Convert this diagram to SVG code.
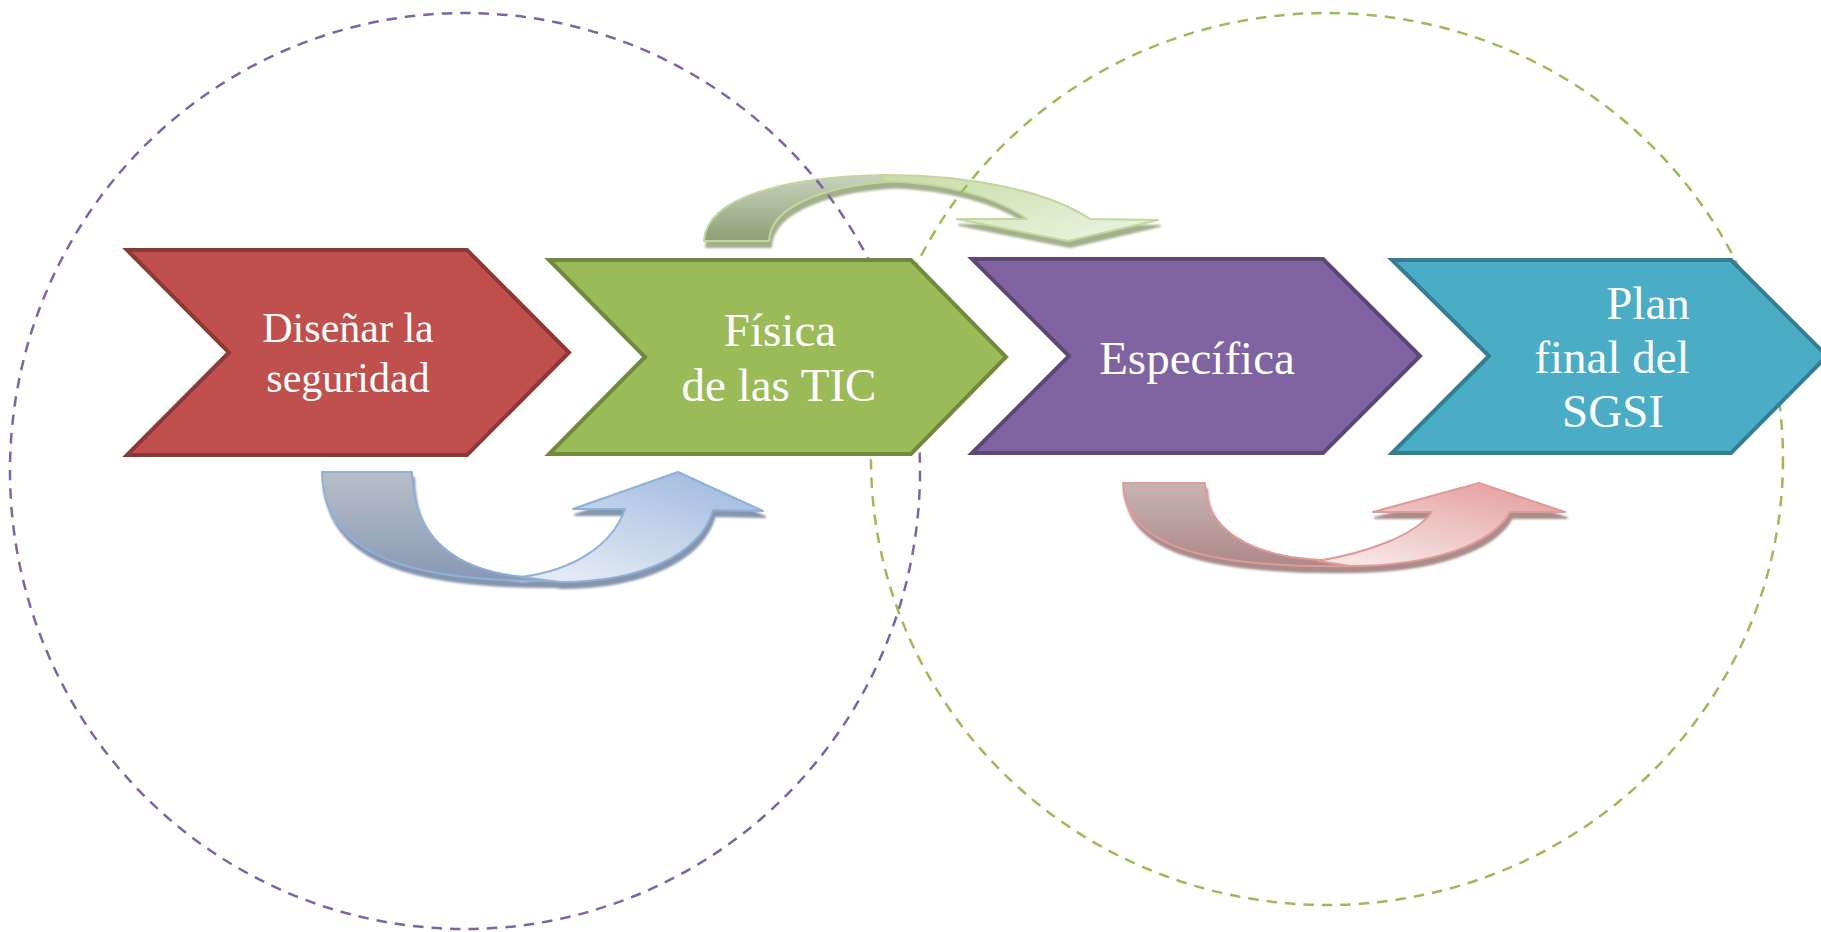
<svg xmlns="http://www.w3.org/2000/svg" width="1821" height="932" viewBox="0 0 1821 932">
<style>
.lbl{font-family:"Liberation Serif","Times New Roman",serif;fill:#ffffff;text-anchor:middle}
.f42{font-size:42px}
.f47{font-size:47px}
.chev{stroke-width:4;stroke-linejoin:miter}
.ring{fill:none;stroke-width:2.5;stroke-dasharray:10.5 8}
.arr{stroke-width:2;stroke-linejoin:round}
</style>
<defs>
<linearGradient id="bD" x1="0" y1="0" x2="0" y2="1"><stop offset="0" stop-color="#B8BEC9"/><stop offset="1" stop-color="#8798B4"/></linearGradient>
<linearGradient id="bL" x1="1" y1="0" x2="0.3" y2="1"><stop offset="0" stop-color="#9AB5DD"/><stop offset="1" stop-color="#E2E9F4"/></linearGradient>
<linearGradient id="rD" x1="0" y1="0" x2="0" y2="1"><stop offset="0" stop-color="#C7B3B3"/><stop offset="1" stop-color="#AE8888"/></linearGradient>
<linearGradient id="rL" x1="1" y1="0" x2="0.3" y2="1"><stop offset="0" stop-color="#E39998"/><stop offset="1" stop-color="#F6E3E3"/></linearGradient>
<linearGradient id="gD" x1="0" y1="0" x2="0" y2="1"><stop offset="0" stop-color="#C9D1BE"/><stop offset="1" stop-color="#8EA176"/></linearGradient>
<linearGradient id="gL" x1="0" y1="0" x2="1" y2="1"><stop offset="0" stop-color="#C8DCA6"/><stop offset="1" stop-color="#EEF4E4"/></linearGradient>
<filter id="shB" x="-10%" y="-10%" width="120%" height="130%"><feOffset in="SourceAlpha" dx="2" dy="6" result="o"/><feFlood flood-color="#8595AE"/><feComposite in2="o" operator="in" result="s"/><feGaussianBlur in="s" stdDeviation="0.8" result="sb"/><feMerge><feMergeNode in="sb"/><feMergeNode in="SourceGraphic"/></feMerge></filter>
<filter id="shR" x="-10%" y="-10%" width="120%" height="130%"><feOffset in="SourceAlpha" dx="2" dy="6" result="o"/><feFlood flood-color="#A98C8B"/><feComposite in2="o" operator="in" result="s"/><feGaussianBlur in="s" stdDeviation="0.8" result="sb"/><feMerge><feMergeNode in="sb"/><feMergeNode in="SourceGraphic"/></feMerge></filter>
<filter id="shG" x="-10%" y="-10%" width="120%" height="130%"><feOffset in="SourceAlpha" dx="2" dy="6" result="o"/><feFlood flood-color="#A4AF8C"/><feComposite in2="o" operator="in" result="s"/><feGaussianBlur in="s" stdDeviation="0.8" result="sb"/><feMerge><feMergeNode in="sb"/><feMergeNode in="SourceGraphic"/></feMerge></filter>
</defs>
<rect width="1821" height="932" fill="#ffffff"/>
<g id="connectors">
<g id="arrow-blue" filter="url(#shB)">
<path class="arr" fill="url(#bD)" stroke="#8FB0D9" d="M322,472 H412 C413,540 458,571 525,577 L565,581 C420,583 322,560 322,472 Z"/>
<path class="arr" fill="url(#bL)" stroke="#8FB0D9" d="M521,577 C575,570 612,545 625,509 L573,509 L678,472 L763,511 L713,510 C700,555 640,582 560,582 Z"/>
</g>
<g id="arrow-green" filter="url(#shG)">
<path class="arr" fill="url(#gD)" stroke="#C3D69B" d="M704,241 C706,196 790,176 890,175 L905,181 C830,183 770,205 769,241 Z"/>
<path class="arr" fill="url(#gL)" stroke="#C3D69B" d="M880,175 C970,174 1050,192 1090,219 L1158,220 L1068,241 L957,219 L1027,219 C995,196 945,183 885,181 Z"/>
</g>
<g id="arrow-red" filter="url(#shR)">
<path class="arr" fill="url(#rD)" stroke="#E29A99" d="M1123,483 H1205 C1206,530 1250,556 1320,560 L1355,566 C1215,568 1124,550 1123,483 Z"/>
<path class="arr" fill="url(#rL)" stroke="#E29A99" d="M1318,561 C1370,552 1415,535 1432,512 L1373,512 L1479,483 L1565,512 L1510,512 C1492,545 1430,566 1350,566 Z"/>
</g>
</g>
<g id="groups">
<ellipse id="ring-purple" class="ring" stroke="#8064A2" cx="465" cy="471" rx="455" ry="458"/>
<ellipse id="ring-green" class="ring" stroke="#9BBB59" cx="1327" cy="459" rx="456" ry="446"/>
</g>
<g id="n1">
<path class="chev" fill="#C0504D" stroke="#8C3836" d="M127,250 H467 L569,352.5 L467,455 H127 L229,352.5 Z"/>
<text class="lbl f42" x="348" y="342">Diseñar la</text>
<text class="lbl f42" x="348" y="392">seguridad</text>
</g>
<g id="n2">
<path class="chev" fill="#9BBB59" stroke="#71893F" d="M549,260 H911 L1006,357 L911,454 H549 L645,357 Z"/>
<text class="lbl f47" x="780" y="346">Física</text>
<text class="lbl f47" x="779" y="401">de las TIC</text>
</g>
<g id="n3">
<path class="chev" fill="#8064A2" stroke="#5C4776" d="M972,259 H1323 L1420,356 L1323,453 H972 L1069,356 Z"/>
<text class="lbl f47" x="1197" y="374">Específica</text>
</g>
<g id="n4">
<path class="chev" fill="#4BACC6" stroke="#357D91" d="M1392,260 H1731 L1827,356 L1731,453 H1392 L1489,356 Z"/>
<text class="lbl f47" x="1648" y="319">Plan</text>
<text class="lbl f47" x="1612" y="373">final del</text>
<text class="lbl f47" x="1613" y="427">SGSI</text>
</g>
</svg>
